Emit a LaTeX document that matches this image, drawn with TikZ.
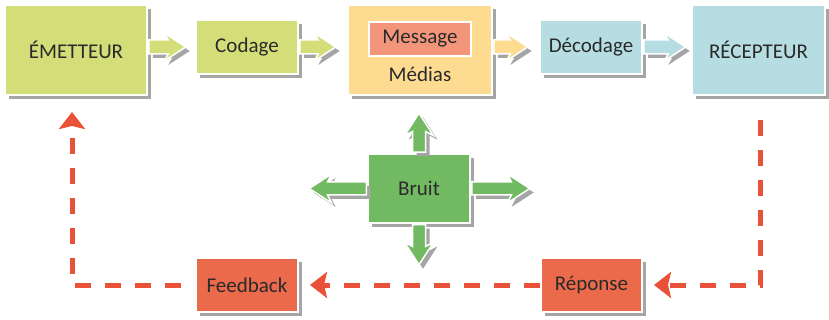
\documentclass[tikz,border=0pt]{standalone}
\usepackage{fontspec}
\setmainfont{Carlito}
\usetikzlibrary{shapes.arrows, shadows, arrows.meta, calc, positioning}
\definecolor{emetgreen}{HTML}{D3DE79}
\definecolor{mediasorange}{HTML}{FDDB91}
\definecolor{messagesalmon}{HTML}{F2957B}
\definecolor{decblue}{HTML}{B6DDE2}
\definecolor{bruitgreen}{HTML}{72BA62}
\definecolor{fbred}{HTML}{EC6A4C}
\definecolor{dashred}{HTML}{EA5139}
\definecolor{shadowgray}{HTML}{A5A5A5}
\definecolor{textdark}{HTML}{2A2A2A}

\begin{document}
\begin{tikzpicture}[
  x=1pt, y=-1pt,
  box/.style={draw=white, line width=2pt, inner sep=0pt, text=textdark,
    font=\fontsize{21}{25}\selectfont,
    drop shadow={shadow xshift=4pt, shadow yshift=-4pt, fill=shadowgray, opacity=1}},
  inbox/.style={draw=white, line width=2pt, inner sep=0pt, text=textdark,
    font=\fontsize{21}{25}\selectfont},
  blockarrow/.style={single arrow, draw=white, line width=1.5pt, inner sep=0pt,
    minimum width=0pt, text height=12.5pt, text depth=0pt,
    single arrow head extend=7pt, single arrow tip angle=66,
    single arrow head indent=4pt, anchor=tail,
    drop shadow={shadow xshift=4pt, shadow yshift=-4pt, fill=shadowgray, opacity=1}},
  noisearrow/.style={blockarrow, fill=bruitgreen, text height=11.5pt,
    single arrow head extend=8pt},
  noisevert/.style={noisearrow, text height=0pt, text width=11.5pt},
  feedline/.style={draw=dashred, line width=5pt, dash pattern=on 16pt off 14pt,
    -{Stealth[length=17pt, width=26pt, inset=3pt]}}
]
\useasboundingbox (0,0) rectangle (829,320);

% chain of transmission
\node[box, fill=emetgreen, minimum width=142pt, minimum height=90pt] (emetteur) at (76,50) {ÉMETTEUR};
\node[box, fill=emetgreen, minimum width=102pt, minimum height=54pt] (codage) at (247,47) {Codage};
\node[box, fill=mediasorange, minimum width=144pt, minimum height=90pt] (medias) at (420,50) {};
\node[inbox, fill=messagesalmon, minimum width=102pt, minimum height=34pt, below=17pt of medias.north] (message) {Message};
\node[inbox, draw=none, at={($(medias.south)+(0,-22)$)}] (mediaslabel) {Médias};
\node[box, fill=decblue, minimum width=102pt, minimum height=54pt] (decodage) at (591,47) {Décodage};
\node[box, fill=decblue, minimum width=133pt, minimum height=90pt] (recepteur) at (758.5,50) {RÉCEPTEUR};

% noise and feedback
\node[box, fill=bruitgreen, minimum width=102pt, minimum height=69pt] (bruit) at (419,188.5) {Bruit};
\node[box, fill=fbred, minimum width=102pt, minimum height=54pt] (feedback) at (247,285) {Feedback};
\node[box, fill=fbred, minimum width=101pt, minimum height=54pt] (reponse) at (591.5,285) {Réponse};

% block arrows
\node[blockarrow, fill=emetgreen, minimum height=37pt] (emet2cod) at (emetteur.east |- codage.west) {};
\node[blockarrow, fill=emetgreen, minimum height=36pt] (cod2med) at (codage.east) {};
\node[blockarrow, fill=mediasorange, minimum height=34pt] (med2dec) at (medias.east |- decodage.west) {};
\node[blockarrow, fill=decblue, minimum height=42pt] (dec2rec) at (decodage.east) {};

\node[noisevert, shape border rotate=90, minimum height=39pt] (noiseup) at (bruit.north) {};
\node[noisevert, shape border rotate=270, minimum height=40pt] (noisedown) at (bruit.south) {};
\node[noisearrow, shape border rotate=180, minimum height=57pt] (noiseleft) at (bruit.west) {};
\node[noisearrow, minimum height=58pt] (noiseright) at (bruit.east) {};

% feedback loop
\draw[feedline, shorten <=14pt, shorten >=16pt] (feedback.west) -| ([xshift=-4pt]emetteur.south);
\draw[feedline, shorten <=24pt, shorten >=11pt] ([xshift=2pt]recepteur.south) |- (reponse.east);
\draw[feedline, shorten >=11pt] (reponse.west) -- (feedback.east);
\end{tikzpicture}
\end{document}
